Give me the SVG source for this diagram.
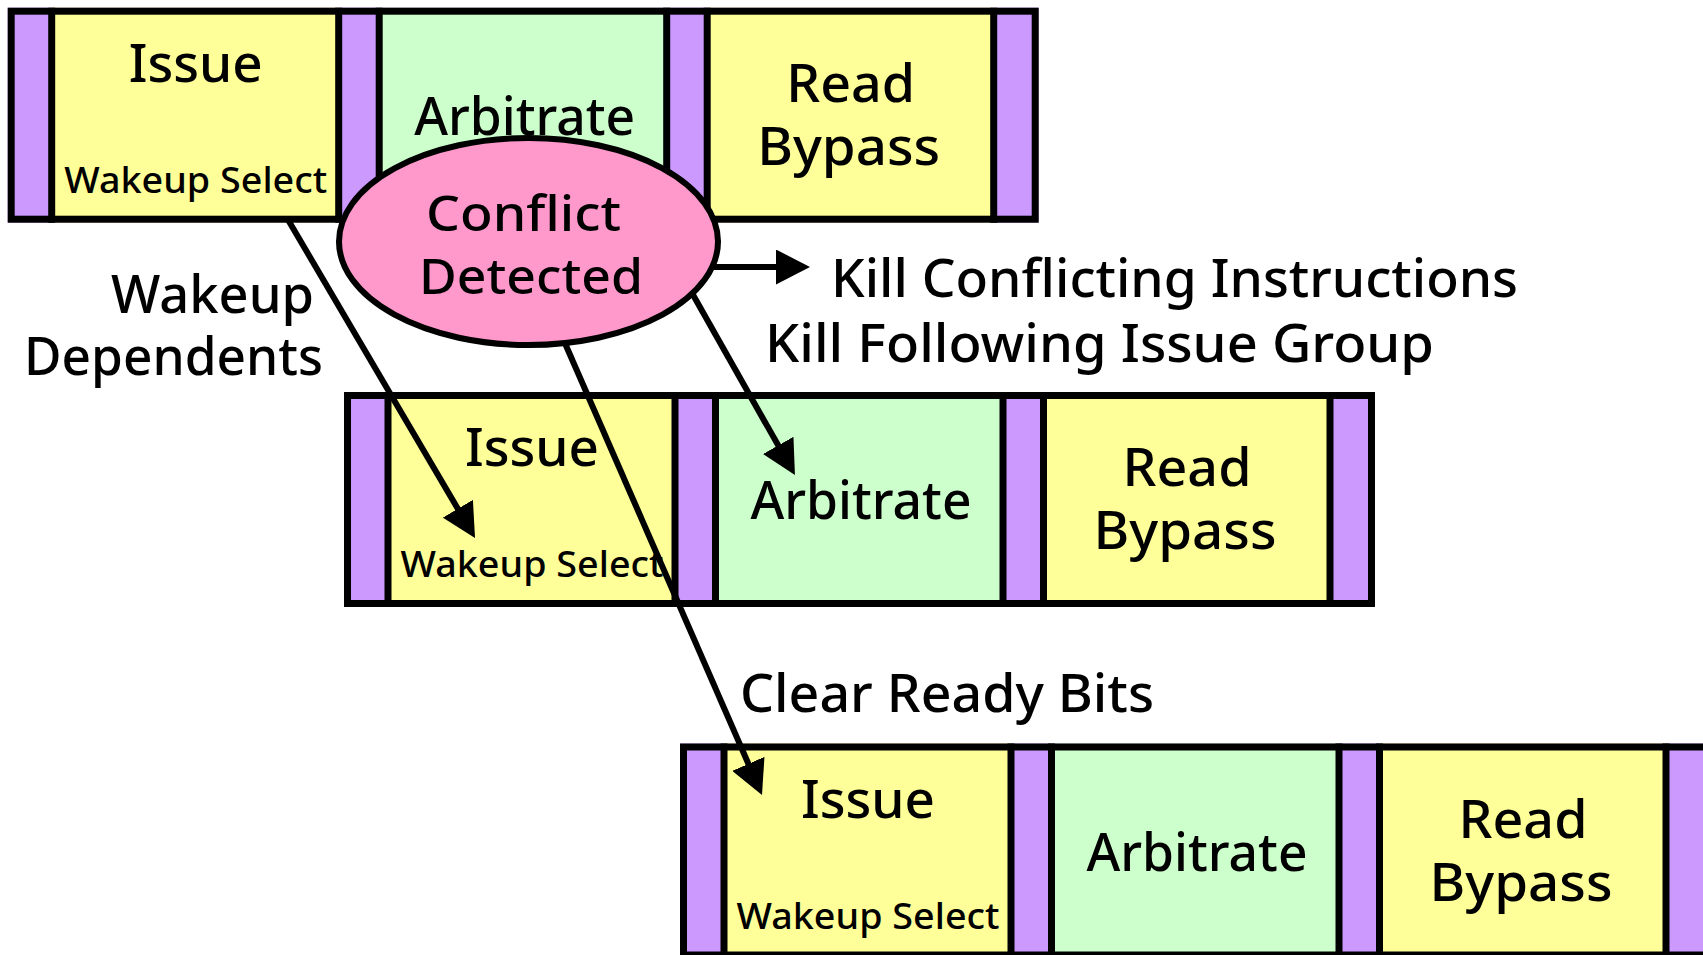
<svg xmlns="http://www.w3.org/2000/svg" width="1703" height="955" viewBox="0 0 1703 955">
  <style>
    .latch { fill: #CC99FF; }
    .issue, .rb { fill: #FFFF99; }
    .arb { fill: #CCFFCC; }
    .frame { fill: none; stroke: #000; stroke-width: 7; }
    .div { fill: none; stroke: #000; stroke-width: 7; }
    text { font-family: "Noto Sans", "Open Sans", "Liberation Sans", sans-serif; font-weight: 500; fill: #000; }
    .big { font-size: 52px; text-anchor: middle; }
    .small { font-size: 36px; text-anchor: middle; }
    .label { font-size: 52px; }
    .oval { font-size: 49px; text-anchor: middle; }
    .conn { fill: none; stroke: #000; stroke-width: 6; marker-end: url(#head); }
  </style>
  <defs>
    <marker id="head" markerUnits="userSpaceOnUse" viewBox="0 0 34 35" markerWidth="34" markerHeight="35" refX="14" refY="17.5" orient="auto">
      <path d="M0 0L34 17.5L0 35Z" fill="#000"/>
    </marker>
  </defs>

  <!-- pipeline row 1 -->
  <g id="row1" transform="translate(7.7 7.7)">
    <rect class="latch" x="0" y="0" width="1031" height="215"/>
    <rect class="issue" x="44" y="0" width="287" height="215"/>
    <rect class="arb" x="371.5" y="0" width="287.5" height="215"/>
    <rect class="rb" x="699.5" y="0" width="286.5" height="215"/>
    <path class="div" d="M44 0V215M331 0V215M371.5 0V215M659 0V215M699.5 0V215M986 0V215"/>
    <rect class="frame" x="3.5" y="3.5" width="1024" height="208"/>
    <text class="big" x="188" y="74.3" textLength="134" lengthAdjust="spacingAndGlyphs">Issue</text>
    <text class="small" x="188" y="185.3" textLength="263" lengthAdjust="spacingAndGlyphs">Wakeup Select</text>
    <text class="big" x="517" y="127.3" textLength="221" lengthAdjust="spacingAndGlyphs">Arbitrate</text>
    <text class="big" x="843" y="94.3" textLength="129" lengthAdjust="spacingAndGlyphs">Read</text>
    <text class="big" x="841" y="157.3" textLength="183" lengthAdjust="spacingAndGlyphs">Bypass</text>
  </g>

  <!-- pipeline row 2 -->
  <g id="row2" transform="translate(344 392)">
    <rect class="latch" x="0" y="0" width="1031" height="215"/>
    <rect class="issue" x="44" y="0" width="287" height="215"/>
    <rect class="arb" x="371.5" y="0" width="287.5" height="215"/>
    <rect class="rb" x="699.5" y="0" width="286.5" height="215"/>
    <path class="div" d="M44 0V215M331 0V215M371.5 0V215M659 0V215M699.5 0V215M986 0V215"/>
    <rect class="frame" x="3.5" y="3.5" width="1024" height="208"/>
    <text class="big" x="188" y="74.3" textLength="134" lengthAdjust="spacingAndGlyphs">Issue</text>
    <text class="small" x="188" y="185.3" textLength="263" lengthAdjust="spacingAndGlyphs">Wakeup Select</text>
    <text class="big" x="517" y="127.3" textLength="221" lengthAdjust="spacingAndGlyphs">Arbitrate</text>
    <text class="big" x="843" y="94.3" textLength="129" lengthAdjust="spacingAndGlyphs">Read</text>
    <text class="big" x="841" y="157.3" textLength="183" lengthAdjust="spacingAndGlyphs">Bypass</text>
  </g>

  <!-- pipeline row 3 -->
  <g id="row3" transform="translate(680 743.5)">
    <rect class="latch" x="0" y="0" width="1031" height="215"/>
    <rect class="issue" x="44" y="0" width="287" height="215"/>
    <rect class="arb" x="371.5" y="0" width="287.5" height="215"/>
    <rect class="rb" x="699.5" y="0" width="286.5" height="215"/>
    <path class="div" d="M44 0V215M331 0V215M371.5 0V215M659 0V215M699.5 0V215M986 0V215"/>
    <rect class="frame" x="3.5" y="3.5" width="1024" height="208"/>
    <text class="big" x="188" y="74.3" textLength="134" lengthAdjust="spacingAndGlyphs">Issue</text>
    <text class="small" x="188" y="185.3" textLength="263" lengthAdjust="spacingAndGlyphs">Wakeup Select</text>
    <text class="big" x="517" y="127.3" textLength="221" lengthAdjust="spacingAndGlyphs">Arbitrate</text>
    <text class="big" x="843" y="94.3" textLength="129" lengthAdjust="spacingAndGlyphs">Read</text>
    <text class="big" x="841" y="157.3" textLength="183" lengthAdjust="spacingAndGlyphs">Bypass</text>
  </g>

  <!-- arrows -->
  <g id="connectors">
    <path class="conn" d="M287 218L464.9 520.8"/>
    <path class="conn" d="M712 267L790 267"/>
    <path class="conn" d="M690.3 290L785.1 457.6"/>
    <path class="conn" d="M561.4 335L754 776.7"/>
  </g>

  <!-- conflict detection -->
  <g id="conflict">
    <ellipse cx="528.5" cy="241.5" rx="189.5" ry="103.5" fill="#FF99CC" stroke="#000" stroke-width="6"/>
    <text class="oval" x="523.5" y="231" textLength="195" lengthAdjust="spacingAndGlyphs">Conflict</text>
    <text class="oval" x="531" y="294" textLength="224" lengthAdjust="spacingAndGlyphs">Detected</text>
  </g>

  <!-- action labels -->
  <g id="labels">
    <text class="label" x="111" y="313" textLength="203" lengthAdjust="spacingAndGlyphs">Wakeup</text>
    <text class="label" x="24" y="375" textLength="299" lengthAdjust="spacingAndGlyphs">Dependents</text>
    <text class="label" x="831" y="296.5" textLength="687" lengthAdjust="spacingAndGlyphs">Kill Conflicting Instructions</text>
    <text class="label" x="765" y="362" textLength="669" lengthAdjust="spacingAndGlyphs">Kill Following Issue Group</text>
    <text class="label" x="740" y="712" textLength="414" lengthAdjust="spacingAndGlyphs">Clear Ready Bits</text>
  </g>
</svg>
